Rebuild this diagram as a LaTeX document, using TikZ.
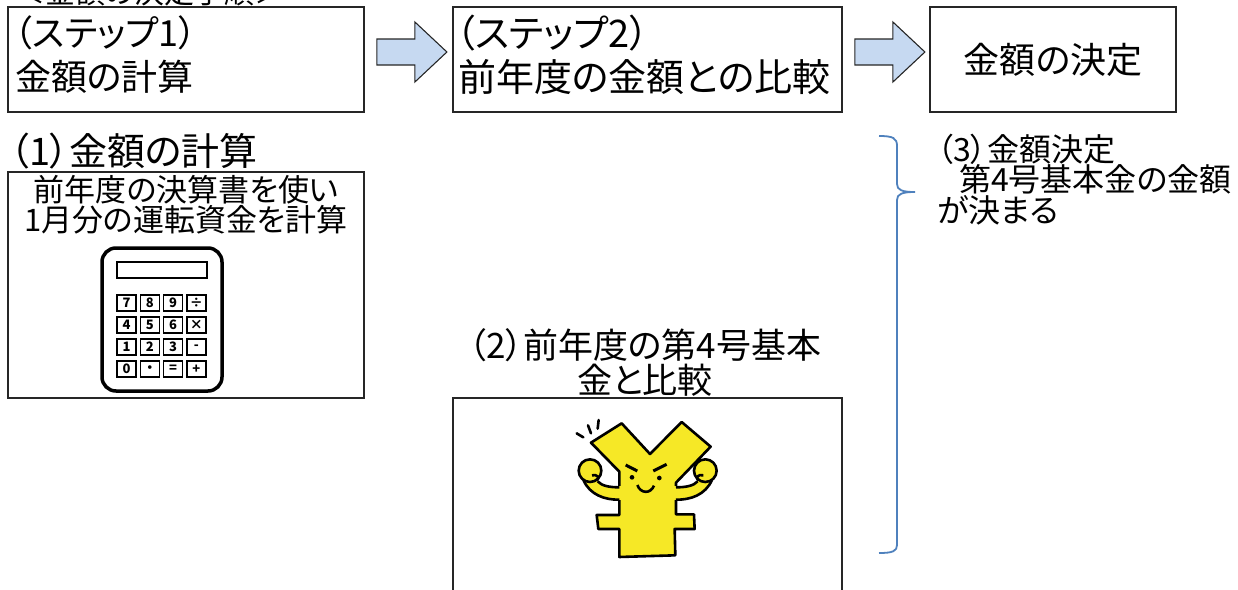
\documentclass[tikz,border=0pt]{standalone}
\usepackage{fontspec}
\setmainfont{Noto Sans CJK JP}[RawFeature=+palt]
\usetikzlibrary{calc}

\definecolor{arrowblue}{RGB}{198,217,241}
\definecolor{bracketblue}{RGB}{79,129,189}
\definecolor{yenyellow}{RGB}{246,232,38}

\begin{document}
\begin{tikzpicture}[x=1pt, y=-1pt,
    box/.style={draw=black!85, line width=1.8pt, minimum height=105},
    bigtext/.style={font=\fontsize{36}{44}\selectfont, inner sep=0pt},
    midtext/.style={font=\fontsize{32}{30.5}\selectfont, inner sep=0pt},
    flowarrow/.style={draw=black!85, line width=1.1pt, fill=arrowblue},
    calckey/.style={draw, line width=1.5pt, minimum width=19, minimum height=16, inner sep=0pt, font=\fontsize{13}{13}\selectfont\bfseries}]
    \clip (0,0) rectangle (1238,589);

    % Heading (runs off the top edge)
    \node[font=\fontsize{30}{30}\selectfont, inner sep=0pt, anchor=west] (title) at (15,-8) {＜金額の決定手順＞};

    % Step boxes
    \node[box, minimum width=356] (step1) at (186,59.5) {};
    \node[box, minimum width=389] (step2) at (647.5,59.5) {};
    \node[box, minimum width=246, bigtext] (result) at (1053,59.5) {金額の決定};
    \node[bigtext, anchor=west] (s1top) at (14,33) {（ステップ1）};
    \node[bigtext, anchor=west] (s1bot) at (15,77) {金額の計算};
    \node[bigtext, font=\fontsize{38}{44}\selectfont, anchor=west] (s2top) at (456,33) {（ステップ2）};
    \node[bigtext, font=\fontsize{38}{44}\selectfont, anchor=west] (s2bot) at (458,77) {前年度の金額との比較};

    % Block arrows between the steps
    \foreach \from/\to in {step1/step2, step2/result} {
        \draw[flowarrow] ($(\from.east)+(12,-7.5)$) ++(0,-13) -- ++(38,0) -- ++(0,-17)
            -- ++(32,30) -- ++(-32,30) -- ++(0,-17) -- ++(-38,0) -- cycle;
    }

    % (1) calculation
    \node[bigtext, font=\fontsize{38}{44}\selectfont, anchor=west] (calchead) at (10,151) {（1）金額の計算};
    \node[box, minimum width=356, minimum height=226] (calcbox) at (186,285) {};
    \node[font=\fontsize{31}{30}\selectfont, inner sep=0pt, align=center] (calctext) at (186,205)
        {前年度の決算書を使い\\1月分の運転資金を計算};

    % calculator
    \draw[line width=3.5pt, rounded corners=14] (102,248) rectangle (222,391);
    \draw[line width=1.5pt] (117,262) rectangle (207,278);
    \foreach \lbl [count=\n from 0] in {7,8,9,÷,4,5,6,×,1,2,3,-,0,・,=,+} {
        \node[calckey] (key\n) at ({126.5+23.3*mod(\n,4)},{303+22*int(\n/4)}) {\lbl};
    }

    % (2) comparison
    \node[font=\fontsize{35}{35}\selectfont, inner sep=0pt, align=center] (comphead) at (645,362)
        {（2）前年度の第4号基本\\金と比較};
    \node[box, minimum width=389, minimum height=222] (yenbox) at (647.5,509) {};

    % yen mascot
    \begin{scope}[shift={(530,400)}, x=0.3333pt, y=-0.3333pt, line width=2.6pt, line join=round]
        \draw[fill=yenyellow] (183,128) -- (275,70) -- (360,162) -- (455,66) -- (542,140)
            -- (438,248) -- (438,343) -- (492,343) -- (494,387) -- (434,387) -- (436,466)
            -- (268,471) -- (268,387) -- (205,387) -- (200,345) -- (268,345) -- (268,215) -- cycle;
        % arms
        \fill[yenyellow] (275,258) .. controls (240,262) and (215,258) .. (200,240) -- (160,240)
            .. controls (180,285) and (225,300) .. (275,300) -- cycle;
        \fill[yenyellow] (431,258) .. controls (466,262) and (491,258) .. (506,240) -- (546,240)
            .. controls (526,285) and (481,300) .. (431,300) -- cycle;
        \draw[fill=yenyellow] (180,212) circle[radius=34];
        \draw[fill=yenyellow] (526,212) circle[radius=34];
        \draw (186,226) .. controls (200,222) and (212,232) .. (200,242);
        \draw (520,226) .. controls (506,222) and (494,232) .. (506,242);
        \draw (268,262) .. controls (240,262) and (215,258) .. (203,244);
        \draw (268,299) .. controls (225,300) and (180,285) .. (160,240);
        \draw (438,262) .. controls (466,262) and (491,258) .. (503,244);
        \draw (438,299) .. controls (481,300) and (526,285) .. (546,240);
        % face
        \draw[line width=3pt] (287,195) -- (322,213);
        \draw[line width=3pt] (370,213) -- (410,193);
        \fill (306,232) circle[radius=7];
        \fill (388,234) circle[radius=7];
        \draw (322,255) .. controls (332,282) and (362,282) .. (372,257);
        % sparkle
        \draw[line cap=round] (140,100) -- (160,112);
        \draw[line cap=round] (174,76) -- (183,100);
        \draw[line cap=round] (206,60) -- (203,86);
    \end{scope}

    % (3) decision with brace
    \draw[bracketblue, line width=1.8pt] (879,136) .. controls (893,136) and (897,138) .. (897,146)
        -- (897,184) .. controls (897,190) and (902,192) .. (915,192)
        .. controls (902,192) and (897,194) .. (897,200)
        -- (897,545) .. controls (897,551) and (893,553) .. (879,553);
    \node[midtext, anchor=west, align=left] (decision) at (937,179.5)
        {（3）金額決定\\\hspace*{22pt}第4号基本金の金額\\が決まる};
\end{tikzpicture}
\end{document}
